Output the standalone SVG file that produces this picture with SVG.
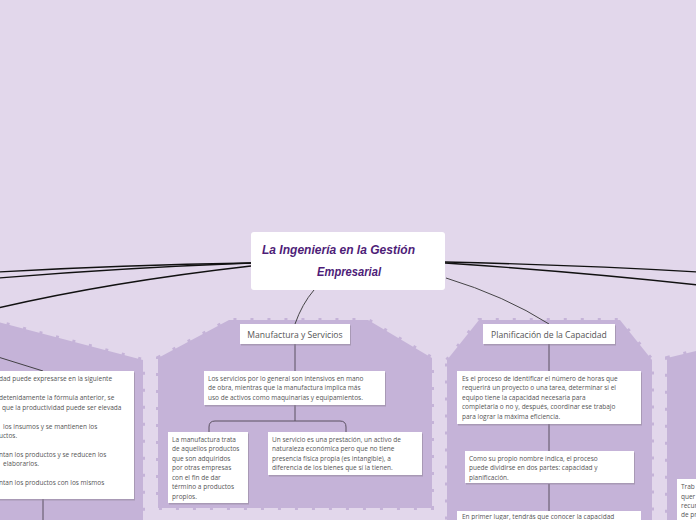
<svg xmlns="http://www.w3.org/2000/svg" width="696" height="520" viewBox="0 0 696 520">
<defs>
<style>
.bg{fill:#e2d7eb}
.area{fill:#c5b3d8;stroke:#c5b3d8;stroke-width:4;stroke-dasharray:3 14}
.box{fill:#ffffff}
.sh{fill:#8f8499;opacity:0.55}
.t{font-family:"Open Sans","Noto Sans",sans-serif;font-size:6.5px;fill:#555555}
.lbl{font-family:"Open Sans","Noto Sans",sans-serif;font-size:8.6px;fill:#555555}
.title{font-family:"Liberation Sans",sans-serif;font-style:italic;font-weight:bold;font-size:12.5px;fill:#4e1d78}
.main{fill:none;stroke:#111111;stroke-width:1.4}
.sub{fill:none;stroke:#333333;stroke-width:0.9}
.v{fill:none;stroke:#5a5060;stroke-width:1}
</style>
</defs>
<rect class="bg" x="0" y="0" width="696" height="520"/>
<g id="areas">
<path class="area" d="M-10,320 L143,360 L143,530 L-10,530 Z"/>
<path class="area" d="M158,358 L229,320 L368,320 L432,358 L432,508 L158,508 Z"/>
<path class="area" d="M447,360 L479,320 L620,320 L652,360 L652,530 L447,530 Z"/>
<path class="area" d="M667,358 L696,351 L696,530 L667,530 Z"/>
</g>
<g id="connectors">
<path class="main" d="M251,263 Q120,265 -2,272"/>
<path class="main" d="M251,263 Q120,268 -2,278"/>
<path class="main" d="M251,266 Q110,282 -2,308"/>
<path class="main" d="M445,262 Q580,265 698,272"/>
<path class="main" d="M445,263 Q580,272 698,285"/>
<path class="sub" d="M446,278 Q505,296 549,324"/>
<path class="sub" d="M314,290 Q302,304 295,324"/>
<path class="sub" d="M-2,357 L43,371"/>
<path class="v" d="M43,499 L43,522"/>
<path class="v" d="M295,344 L295,371"/>
<path class="v" d="M295,405 L295,421"/>
<path class="v" d="M209,432 L209,427 Q209,421 215,421 L340,421 Q346,421 346,427 L346,432"/>
<path class="v" d="M549,344 L549,371"/>
<path class="v" d="M549,424 L549,451"/>
<path class="v" d="M549,484 L549,511"/>
</g>
<g id="title">
<rect class="box" x="251" y="232" width="194" height="58" rx="3"/>
<text class="title" x="262" y="254" textLength="153" lengthAdjust="spacingAndGlyphs">La Ingeniería en la Gestión</text>
<text class="title" x="317" y="276" textLength="64" lengthAdjust="spacingAndGlyphs">Empresarial</text>
</g>
<g id="left-box">
<rect class="sh" x="-4" y="372.5" width="139" height="128"/>
<rect class="box" x="-4" y="371" width="138" height="128"/>
<text class="t" x="-1" y="381">dad puede expresarse en la siguiente</text>
<text class="t" x="-1" y="400">detenidamente la fórmula anterior, se</text>
<text class="t" x="2" y="410">que la productividad puede ser elevada</text>
<text class="t" x="3" y="429">los insumos y se mantienen los</text>
<text class="t" x="-1" y="438">uctos.</text>
<text class="t" x="-1" y="457">ntan los productos y se reducen los</text>
<text class="t" x="3" y="466">elaborarlos.</text>
<text class="t" x="-1" y="485">ntan los productos con los mismos</text>
</g>
<g id="manufactura">
<rect class="sh" x="241" y="325.5" width="110" height="20"/>
<rect class="box" x="240" y="324" width="110" height="20"/>
<text class="lbl" x="295" y="337.5" text-anchor="middle">Manufactura y Servicios</text>
</g>
<g id="servicios-desc">
<rect class="sh" x="205" y="372.5" width="181" height="34"/>
<rect class="box" x="204" y="371" width="181" height="34"/>
<text class="t" x="208" y="380.5">Los servicios por lo general son intensivos en mano</text>
<text class="t" x="208" y="390">de obra, mientras que la manufactura implica más</text>
<text class="t" x="208" y="399.5">uso de activos como maquinarias y equipamientos.</text>
</g>
<g id="manufactura-desc">
<rect class="sh" x="169" y="433.5" width="80" height="71"/>
<rect class="box" x="168" y="432" width="80" height="71"/>
<text class="t" x="172" y="441.5">La manufactura trata</text>
<text class="t" x="172" y="451">de aquellos productos</text>
<text class="t" x="172" y="460.5">que son adquiridos</text>
<text class="t" x="172" y="470">por otras empresas</text>
<text class="t" x="172" y="479.5">con el fin de dar</text>
<text class="t" x="172" y="489">término a productos</text>
<text class="t" x="172" y="498.5">propios.</text>
</g>
<g id="servicio-desc">
<rect class="sh" x="269" y="433.5" width="154" height="43"/>
<rect class="box" x="268" y="432" width="154" height="43"/>
<text class="t" x="272" y="441.5">Un servicio es una prestación, un activo de</text>
<text class="t" x="272" y="451">naturaleza económica pero que no tiene</text>
<text class="t" x="272" y="460.5">presencia física propia (es intangible), a</text>
<text class="t" x="272" y="470">diferencia de los bienes que sí la tienen.</text>
</g>
<g id="planificacion">
<rect class="sh" x="484" y="325.5" width="132" height="20"/>
<rect class="box" x="483" y="324" width="132" height="20"/>
<text class="lbl" x="549" y="337.5" text-anchor="middle">Planificación de la Capacidad</text>
</g>
<g id="planificacion-desc">
<rect class="sh" x="458" y="372.5" width="184" height="53"/>
<rect class="box" x="457" y="371" width="184" height="53"/>
<text class="t" x="462" y="380.5">Es el proceso de identificar el número de horas que</text>
<text class="t" x="462" y="390">requerirá un proyecto o una tarea, determinar si el</text>
<text class="t" x="462" y="399.5">equipo tiene la capacidad necesaria para</text>
<text class="t" x="462" y="409">completarla o no y, después, coordinar ese trabajo</text>
<text class="t" x="462" y="418.5">para lograr la máxima eficiencia.</text>
</g>
<g id="partes">
<rect class="sh" x="466" y="452.5" width="169" height="32"/>
<rect class="box" x="465" y="451" width="169" height="32"/>
<text class="t" x="469" y="460.5">Como su propio nombre indica, el proceso</text>
<text class="t" x="469" y="470">puede dividirse en dos partes: capacidad y</text>
<text class="t" x="469" y="479.5">planificación.</text>
</g>
<g id="primer-lugar">
<rect class="box" x="457" y="511" width="184" height="20"/>
<text class="t" x="462" y="519">En primer lugar, tendrás que conocer la capacidad</text>
</g>
<g id="right-box">
<rect class="box" x="677" y="479" width="30" height="50"/>
<text class="t" x="681" y="489">Trab</text>
<text class="t" x="681" y="498.5">quer</text>
<text class="t" x="681" y="508">recur</text>
<text class="t" x="681" y="517">de pr</text>
</g>
</svg>
